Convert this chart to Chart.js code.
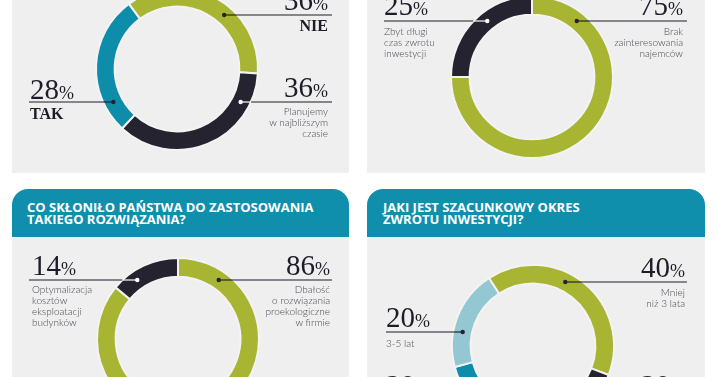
<!DOCTYPE html>
<html><head><meta charset="utf-8">
<script src="https://cdn.jsdelivr.net/npm/chart.js@4.4.0/dist/chart.umd.min.js"></script>
<style>
html,body{margin:0;padding:0;width:715px;height:377px;overflow:hidden;background:#fff;}
body{position:relative;}
.panel{position:absolute;background:#efeff0;}
.head{position:absolute;background:#0f8fab;border-radius:16px 16px 0 0;}
.htxt{position:absolute;color:#fff;font-family:"Open Sans",sans-serif;font-weight:700;font-size:13px;line-height:12px;white-space:nowrap;}
canvas.ch{position:absolute;left:0;top:-60px;}
.t{position:absolute;white-space:nowrap;color:#1d1c28;}
.num{font-family:"Liberation Serif",serif;font-size:29px;line-height:29px;}
.num span{font-size:18px;}
.big{font-family:"Liberation Serif",serif;font-weight:700;font-size:16px;line-height:16px;}
.sub{font-family:Lato,sans-serif;font-weight:300;font-size:10px;line-height:11px;color:#4a4a52;}
.r{text-align:right;}
</style></head>
<body>
<div class="panel" style="left:12px;top:-30px;width:337px;height:203px"></div>
<div class="panel" style="left:367px;top:-30px;width:338px;height:203px"></div>
<div class="head" style="left:12px;top:189px;width:337px;height:48px"></div>
<div class="panel" style="left:12px;top:237px;width:337px;height:160px"></div>
<div class="head" style="left:367px;top:189px;width:338px;height:48px"></div>
<div class="panel" style="left:367px;top:237px;width:338px;height:160px"></div>
<div class="htxt" style="left:27px;top:201px">CO SKŁONIŁO PAŃSTWA DO ZASTOSOWANIA<br>TAKIEGO ROZWIĄZANIA?</div>
<div class="htxt" style="left:383px;top:201px">JAKI JEST SZACUNKOWY OKRES<br>ZWROTU INWESTYCJI?</div>
<canvas class="ch" id="c1" width="715" height="500"></canvas>
<canvas class="ch" id="c2" width="715" height="500"></canvas>
<canvas class="ch" id="c3" width="715" height="500"></canvas>
<canvas class="ch" id="c4" width="715" height="500"></canvas>
<div id="labels"></div>
<script>
// ---- data ----
const c1Labels = ['NIE', 'Planujemy w najbliższym czasie', 'TAK'];
const c1Values = [36, 36, 28];
const c2Labels = ['Brak zainteresowania najemców', 'Zbyt długi czas zwrotu inwestycji'];
const c2Values = [75, 25];
const c3Labels = ['Dbałość o rozwiązania proekologiczne w firmie', 'Optymalizacja kosztów eksploatacji budynków'];
const c3Values = [86, 14];
const c4Labels = ['Mniej niż 3 lata', 'powyżej 5 lat', 'inne', '3-5 lat'];
const c4Values = [40, 20, 20, 20];

const GREEN = '#a8b532', DARK = '#25232f', TEAL = '#0e8dab', LIGHT = '#93c7d2';
const OFF = 60; // canvas top offset

const leaderPlugin = {
  id: 'leaders',
  afterDatasetsDraw(chart, args, opts) {
    const arc = chart.getDatasetMeta(0).data[0];
    const p = arc.getProps(['x', 'y', 'innerRadius', 'outerRadius'], true);
    const rm = (p.innerRadius + p.outerRadius) / 2;
    const ctx = chart.ctx;
    (opts.items || []).forEach(it => {
      const y = it.y + OFF;
      const dy = y - p.y;
      const dx = Math.sqrt(Math.max(rm * rm - dy * dy, 0));
      const dxo = Math.sqrt(Math.max(p.outerRadius * p.outerRadius - dy * dy, 0));
      const s = it.side === 'left' ? -1 : 1;
      const xd = p.x + s * dx, xo = p.x + s * dxo;
      ctx.save();
      ctx.lineWidth = 1.2;
      ctx.strokeStyle = '#1d1c28';
      ctx.beginPath(); ctx.moveTo(it.x, y); ctx.lineTo(xo, y); ctx.stroke();
      ctx.strokeStyle = it.dot;
      ctx.beginPath(); ctx.moveTo(xo, y); ctx.lineTo(xd, y); ctx.stroke();
      ctx.fillStyle = it.dot;
      ctx.beginPath(); ctx.arc(xd, y, 2.2, 0, Math.PI * 2); ctx.fill();
      ctx.restore();
    });
  }
};

function makeChart(id, labels, values, colors, geo, rotation, items) {
  const R = geo.r + 1;
  new Chart(document.getElementById(id), {
    type: 'doughnut',
    data: { labels: labels, datasets: [{ data: values, backgroundColor: colors,
      borderColor: '#f3f3f3', borderWidth: 2 }] },
    options: {
      responsive: false, animation: false, rotation: rotation, cutout: '77%',
      layout: { padding: { left: geo.cx - R, right: 715 - geo.cx - R,
        top: geo.cy + OFF - R, bottom: 500 - (geo.cy + OFF) - R } },
      plugins: { legend: { display: false }, tooltip: { enabled: false },
        leaders: { items: items } }
    },
    plugins: [leaderPlugin]
  });
}

makeChart('c1', c1Labels, c1Values, [GREEN, DARK, TEAL], {cx: 177, cy: 69, r: 81}, -36.5, [
  {y: 15, x: 332, side: 'right', dot: DARK},
  {y: 102, x: 332, side: 'right', dot: '#ffffff'},
  {y: 102, x: 29, side: 'left', dot: DARK}
]);
makeChart('c2', c2Labels, c2Values, [GREEN, DARK], {cx: 532, cy: 77, r: 81}, 0, [
  {y: 21, x: 687, side: 'right', dot: DARK},
  {y: 21, x: 384, side: 'left', dot: '#ffffff'}
]);
makeChart('c3', c3Labels, c3Values, [GREEN, DARK], {cx: 178, cy: 339, r: 81}, 0, [
  {y: 280, x: 332, side: 'right', dot: DARK},
  {y: 280, x: 29, side: 'left', dot: '#ffffff'}
]);
makeChart('c4', c4Labels, c4Values, [GREEN, DARK, TEAL, LIGHT], {cx: 533, cy: 346, r: 81}, -33, [
  {y: 282, x: 687, side: 'right', dot: DARK},
  {y: 332, x: 386, side: 'left', dot: DARK}
]);

// ---- text labels ----
const L = document.getElementById('labels');
function add(cls, html, pos) {
  const d = document.createElement('div');
  d.className = 't ' + cls;
  d.innerHTML = html;
  Object.assign(d.style, pos);
  L.appendChild(d);
}
const pct = v => v + '<span>%</span>';
// chart 1
add('num r', pct(c1Values[0]), {right: (715 - 328) + 'px', top: '-14px'});
add('big r', 'NIE', {right: (715 - 328) + 'px', top: '18px'});
add('num r', pct(c1Values[1]), {right: (715 - 328) + 'px', top: '73px'});
add('sub r', 'Planujemy<br>w najbliższym<br>czasie', {right: (715 - 328) + 'px', top: '105.5px'});
add('num', pct(c1Values[2]), {left: '30px', top: '75px'});
add('big', 'TAK', {left: '30px', top: '106px'});
// chart 2
add('num', pct(c2Values[1]), {left: '384px', top: '-9px'});
add('sub', 'Zbyt długi<br>czas zwrotu<br>inwestycji', {left: '384px', top: '25.5px'});
add('num r', pct(c2Values[0]), {right: (715 - 683) + 'px', top: '-9px'});
add('sub r', 'Brak<br>zainteresowania<br>najemców', {right: (715 - 683) + 'px', top: '25.5px'});
// chart 3
add('num', pct(c3Values[1]), {left: '32px', top: '251px'});
add('sub', 'Optymalizacja<br>kosztów<br>eksploatacji<br>budynków', {left: '32px', top: '283.5px'});
add('num r', pct(c3Values[0]), {right: (715 - 330) + 'px', top: '251px'});
add('sub r', 'Dbałość<br>o rozwiązania<br>proekologiczne<br>w firmie', {right: (715 - 330) + 'px', top: '283.5px'});
// chart 4
add('num r', pct(c4Values[0]), {right: (715 - 685) + 'px', top: '253px'});
add('sub r', 'Mniej<br>niż 3 lata', {right: (715 - 685) + 'px', top: '286.5px'});
add('num', pct(c4Values[3]), {left: '386px', top: '303px'});
add('sub', '3-5 lat', {left: '386px', top: '337.5px'});
add('num', pct(c4Values[2]), {left: '386px', top: '371px'});
add('num r', pct(c4Values[1]), {right: (715 - 685) + 'px', top: '371px'});
</script>
</body></html>
